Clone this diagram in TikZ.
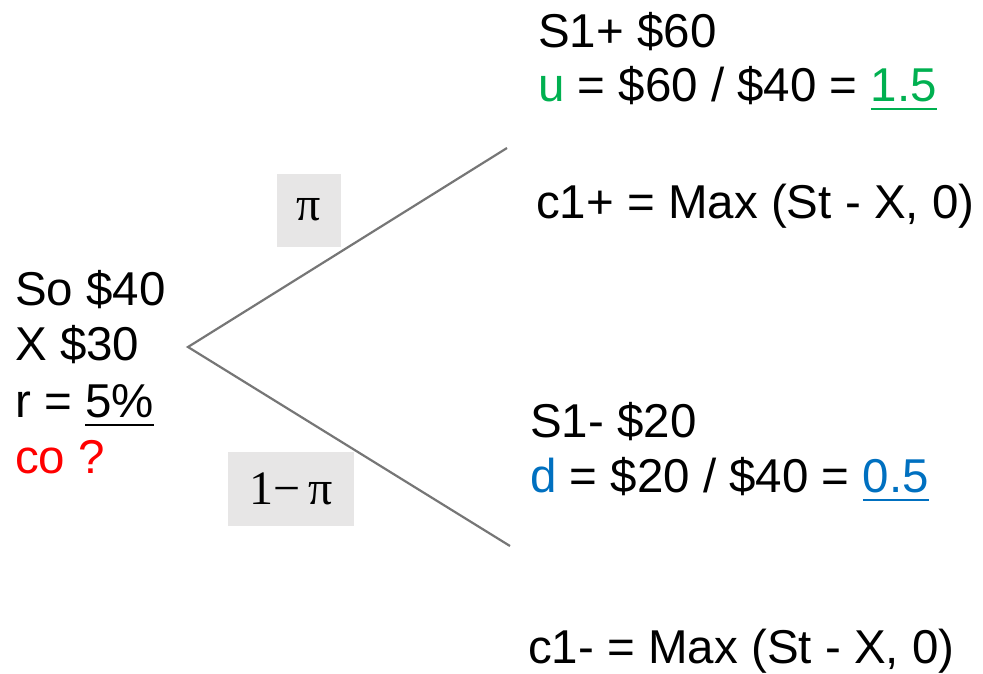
\documentclass[tikz,border=0pt]{standalone}
\usepackage{fontspec}
\setmainfont{Liberation Sans}
\newfontfamily\symfont{Liberation Serif}
\definecolor{upgreen}{HTML}{00B050}
\definecolor{downblue}{HTML}{0070C0}
\definecolor{branchgray}{HTML}{767676}
\definecolor{probfill}{HTML}{E7E6E6}
\newcommand{\ulbar}[1]{\setbox0\hbox{#1}\rlap{\rule[-9pt]{\wd0}{2.5pt}}\box0}
\begin{document}
\begin{tikzpicture}[x=1pt, y=-1pt,
  txt/.style={anchor=base west, inner sep=0pt, font=\fontsize{47.5}{56}\selectfont},
  prob/.style={fill=probfill, inner sep=0pt, font=\symfont\fontsize{48}{56}\selectfont},
  branch/.style={draw=branchgray, line width=2.2pt}]
\useasboundingbox (0,0) rectangle (983,673);
\coordinate (root) at (188,347);
\coordinate (up) at (507,148);
\coordinate (down) at (510,546);
\draw[branch] (up) -- (root) -- (down);
\node[prob, minimum width=64pt, minimum height=73pt] (pup) at (309,210){π};
\node[prob, minimum width=126pt, minimum height=74pt] (pdown) at (291,489){1−\,π};
\node[txt] (s0) at (15,305){So \$40};
\node[txt] (x) at (15,360){X \$30};
\node[txt] (r) at (15,417){r = \ulbar{5\%}};
\node[txt, text=red] (c0) at (15,473){co ?};
\node[txt] (s1u) at (538,47){S1+ \$60};
\node[txt] (u) at (538,101){\textcolor{upgreen}{u} = \$60 / \$40 = \textcolor{upgreen}{\ulbar{1.5}}};
\node[txt] (c1u) at (536,218){c1+ = Max (St - X, 0)};
\node[txt] (s1d) at (530,437){S1- \$20};
\node[txt] (d) at (530,492){\textcolor{downblue}{d} = \$20 / \$40 = \textcolor{downblue}{\ulbar{0.5}}};
\node[txt] (c1d) at (528,663){c1- = Max (St - X, 0)};
\end{tikzpicture}
\end{document}
